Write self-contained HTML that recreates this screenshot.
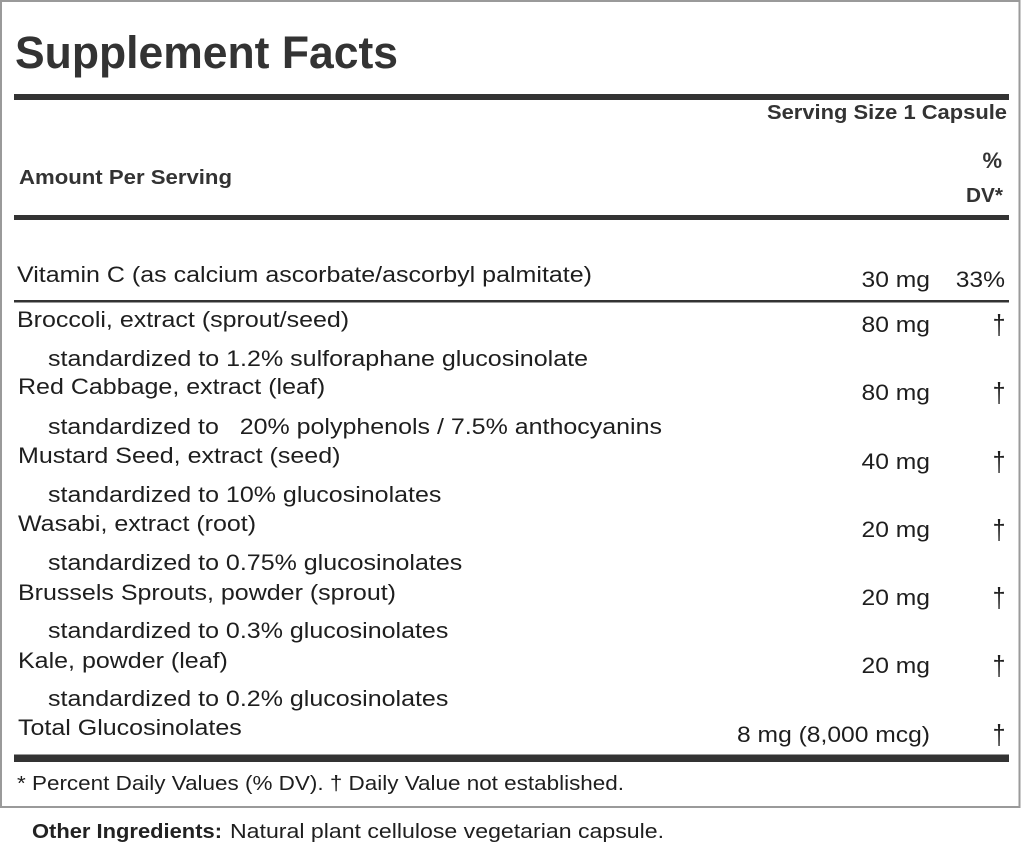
<!DOCTYPE html>
<html>
<head>
<meta charset="utf-8">
<style>
  html,body{margin:0;padding:0;background:#fff;}
  svg{display:block;}
  text{font-family:"Liberation Sans", Arial, sans-serif; white-space:pre;}
  .b{font-weight:bold; fill:#333;}
  .r{font-size:22px; fill:#1e1e1e;}
</style>
</head>
<body>
<svg width="1024" height="853" viewBox="0 0 1024 853" xmlns="http://www.w3.org/2000/svg">
  <rect x="0" y="0" width="1024" height="853" fill="#fff"/>
  <!-- outer border -->
  <rect x="1" y="1" width="1018.5" height="806" fill="none" stroke="#9a9a9a" stroke-width="2"/>

  <!-- title -->
  <text class="b" x="15" y="68" font-size="45" textLength="383" lengthAdjust="spacingAndGlyphs">Supplement Facts</text>

  <!-- thick line 1 -->
  <rect x="14" y="94" width="995" height="6" fill="#333"/>

  <text class="b" x="767" y="119" font-size="20" textLength="240" lengthAdjust="spacingAndGlyphs">Serving Size 1 Capsule</text>
  <text class="b" x="19" y="184" font-size="20" textLength="213" lengthAdjust="spacingAndGlyphs">Amount Per Serving</text>
  <text class="b" x="1002" y="168" font-size="22" text-anchor="end">%</text>
  <text class="b" x="966" y="202" font-size="20" textLength="37" lengthAdjust="spacingAndGlyphs">DV*</text>

  <!-- thick line 2 -->
  <rect x="14" y="215" width="995" height="5" fill="#333"/>

  <!-- Vitamin C -->
  <text class="r" x="17" y="282" textLength="575" lengthAdjust="spacingAndGlyphs">Vitamin C (as calcium ascorbate/ascorbyl palmitate)</text>
  <g transform="translate(930,287) scale(1.12,1)"><text class="r" x="0" y="0" text-anchor="end">30 mg</text></g>
  <g transform="translate(1005,287) scale(1.12,1)"><text class="r" x="0" y="0" text-anchor="end">33%</text></g>

  <!-- thin line -->
  <rect x="14" y="300" width="995" height="2.5" fill="#333"/>

  <!-- Broccoli -->
  <g transform="translate(17,327) scale(1.137,1)"><text class="r" x="0" y="0">Broccoli, extract (sprout/seed)</text></g>
  <g transform="translate(930,332) scale(1.12,1)"><text class="r" x="0" y="0" text-anchor="end">80 mg</text></g>
  <g transform="translate(999,334) scale(1.05,1.25)"><text class="r" x="0" y="0" text-anchor="middle">†</text></g>
  <text class="r" x="48" y="366" textLength="540" lengthAdjust="spacingAndGlyphs">standardized to 1.2% sulforaphane glucosinolate</text>

  <!-- Red Cabbage -->
  <g transform="translate(18,394) scale(1.137,1)"><text class="r" x="0" y="0">Red Cabbage, extract (leaf)</text></g>
  <g transform="translate(930,400) scale(1.12,1)"><text class="r" x="0" y="0" text-anchor="end">80 mg</text></g>
  <g transform="translate(999,402) scale(1.05,1.25)"><text class="r" x="0" y="0" text-anchor="middle">†</text></g>
  <text class="r" x="48" y="434" textLength="614" lengthAdjust="spacingAndGlyphs">standardized to   20% polyphenols / 7.5% anthocyanins</text>

  <!-- Mustard -->
  <g transform="translate(18,463) scale(1.137,1)"><text class="r" x="0" y="0">Mustard Seed, extract (seed)</text></g>
  <g transform="translate(930,469) scale(1.12,1)"><text class="r" x="0" y="0" text-anchor="end">40 mg</text></g>
  <g transform="translate(999,471) scale(1.05,1.25)"><text class="r" x="0" y="0" text-anchor="middle">†</text></g>
  <g transform="translate(48,502) scale(1.137,1)"><text class="r" x="0" y="0">standardized to 10% glucosinolates</text></g>

  <!-- Wasabi -->
  <g transform="translate(18,531) scale(1.137,1)"><text class="r" x="0" y="0">Wasabi, extract (root)</text></g>
  <g transform="translate(930,537) scale(1.12,1)"><text class="r" x="0" y="0" text-anchor="end">20 mg</text></g>
  <g transform="translate(999,539) scale(1.05,1.25)"><text class="r" x="0" y="0" text-anchor="middle">†</text></g>
  <g transform="translate(48,570) scale(1.137,1)"><text class="r" x="0" y="0">standardized to 0.75% glucosinolates</text></g>

  <!-- Brussels -->
  <g transform="translate(18,600) scale(1.137,1)"><text class="r" x="0" y="0">Brussels Sprouts, powder (sprout)</text></g>
  <g transform="translate(930,605) scale(1.12,1)"><text class="r" x="0" y="0" text-anchor="end">20 mg</text></g>
  <g transform="translate(999,607) scale(1.05,1.25)"><text class="r" x="0" y="0" text-anchor="middle">†</text></g>
  <g transform="translate(48,638) scale(1.137,1)"><text class="r" x="0" y="0">standardized to 0.3% glucosinolates</text></g>

  <!-- Kale -->
  <g transform="translate(18,668) scale(1.137,1)"><text class="r" x="0" y="0">Kale, powder (leaf)</text></g>
  <g transform="translate(930,673) scale(1.12,1)"><text class="r" x="0" y="0" text-anchor="end">20 mg</text></g>
  <g transform="translate(999,675) scale(1.05,1.25)"><text class="r" x="0" y="0" text-anchor="middle">†</text></g>
  <g transform="translate(48,706) scale(1.137,1)"><text class="r" x="0" y="0">standardized to 0.2% glucosinolates</text></g>

  <!-- Total -->
  <g transform="translate(18,735) scale(1.137,1)"><text class="r" x="0" y="0">Total Glucosinolates</text></g>
  <g transform="translate(930,742) scale(1.12,1)"><text class="r" x="0" y="0" text-anchor="end">8 mg (8,000 mcg)</text></g>
  <g transform="translate(999,744) scale(1.05,1.25)"><text class="r" x="0" y="0" text-anchor="middle">†</text></g>

  <!-- thick line bottom -->
  <rect x="14" y="754.5" width="995" height="7.5" fill="#333"/>

  <!-- footnote -->
  <text x="17" y="790" font-size="20.5" fill="#1e1e1e" textLength="607" lengthAdjust="spacingAndGlyphs">* Percent Daily Values (% DV). † Daily Value not established.</text>

  <!-- other ingredients -->
  <text x="32" y="838" font-size="20" font-weight="bold" fill="#222" textLength="190" lengthAdjust="spacingAndGlyphs">Other Ingredients:</text>
  <text x="230" y="838" font-size="20.5" fill="#1e1e1e" textLength="434" lengthAdjust="spacingAndGlyphs">Natural plant cellulose vegetarian capsule.</text>
</svg>
</body>
</html>
